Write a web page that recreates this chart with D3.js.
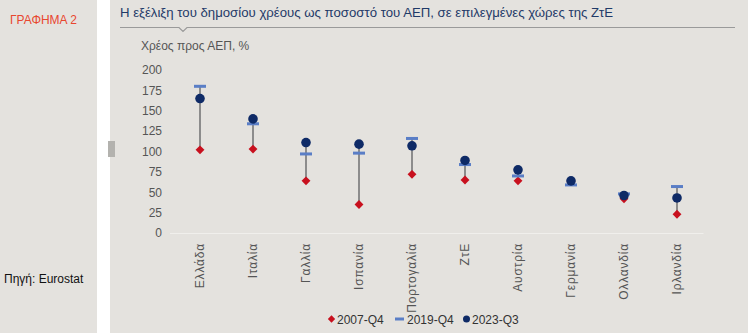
<!DOCTYPE html>
<html>
<head>
<meta charset="utf-8">
<script src="https://cdn.jsdelivr.net/npm/d3@7"></script>
<style>
  html, body { margin: 0; padding: 0; background: #ffffff; }
  svg { display: block; }
  text { font-family: "Liberation Sans", Arial, sans-serif; }
</style>
</head>
<body>
<svg id="chart" width="748" height="336"></svg>
<script>
// Public debt as % of GDP, selected euro-area countries
const countries = ["Ελλάδα", "Ιταλία", "Γαλλία", "Ισπανία", "Πορτογαλία", "ΖτΕ", "Αυστρία", "Γερμανία", "Ολλανδία", "Ιρλανδία"];
const debt2007Q4 = [102, 103, 64, 35, 72, 65, 64, 63.5, 42, 23];
const debt2019Q4 = [180, 134, 97, 98, 116, 84, 70, 59, 48, 57];
const debt2023Q3 = [165, 140, 111, 109, 107, 89, 77.5, 64, 46, 43];
const yTicks = [0, 25, 50, 75, 100, 125, 150, 175, 200];
const seriesNames = ["2007-Q4", "2019-Q4", "2023-Q3"];

const W = 748, H = 336;
const svg = d3.select("#chart");

// Panels
svg.append("rect").attr("x", 0).attr("y", 0).attr("width", 97).attr("height", 333).attr("fill", "#e4e2de");
svg.append("rect").attr("x", 110).attr("y", 0).attr("width", W - 110).attr("height", 333).attr("fill", "#e4e2de");
svg.append("rect").attr("x", 108).attr("y", 141).attr("width", 7).attr("height", 16).attr("fill", "#b3b2ae");

// Side labels
svg.append("text").attr("x", 10).attr("y", 24).attr("fill", "#e8472f").attr("font-size", 12).text("ΓΡΑΦΗΜΑ 2");
svg.append("text").attr("x", 4).attr("y", 283).attr("fill", "#111").attr("font-size", 12).text("Πηγή:  Eurostat");

// Title with rule and notch
svg.append("text").attr("x", 120).attr("y", 17).attr("fill", "#1f3a68").attr("font-size", 13.2)
  .text("Η εξέλιξη του δημοσίου χρέους ως ποσοστό του ΑΕΠ, σε επιλεγμένες χώρες της ΖτΕ");
svg.append("path").attr("d", "M120,27.5H179L183,31.5L187,27.5H735")
  .attr("fill", "none").attr("stroke", "#9a9a9a").attr("stroke-width", 1.2);

svg.append("text").attr("x", 141).attr("y", 50).attr("fill", "#555").attr("font-size", 12).text("Χρέος προς ΑΕΠ, %");

// Scales
const x = d3.scaleBand().domain(countries).range([173.5, 703.5]);
const y = d3.scaleLinear().domain([0, 200]).range([233, 70]);

// Y axis labels
const yAxis = svg.append("g").attr("transform", "translate(166,0)")
  .call(d3.axisLeft(y).tickValues(yTicks).tickSize(0).tickPadding(4));
yAxis.select(".domain").remove();
yAxis.selectAll("text").attr("fill", "#555").attr("font-size", 12)
  .attr("font-family", "'Liberation Sans', Arial, sans-serif");

// Baseline
svg.append("line").attr("x1", 170).attr("x2", 703.5).attr("y1", y(0) + 0.5).attr("y2", y(0) + 0.5)
  .attr("stroke", "#f0efec").attr("stroke-width", 1);

// Category labels (rotated)
const xAxis = svg.append("g").attr("transform", `translate(0,${y(0) + 6})`)
  .call(d3.axisBottom(x).tickSize(0).tickPadding(0));
xAxis.select(".domain").remove();
xAxis.selectAll("text")
  .attr("transform", "rotate(-90)")
  .attr("text-anchor", "end")
  .attr("dy", "0.35em")
  .attr("x", -4)
  .attr("y", 0)
  .attr("fill", "#555").attr("font-size", 12)
  .attr("letter-spacing", "0.8px")
  .attr("font-family", "'Liberation Sans', Arial, sans-serif");

// Data rows
const rows = countries.map((c, i) => ({ c, a: debt2007Q4[i], b: debt2019Q4[i], d: debt2023Q3[i] }));
const cx = d => x(d.c) + x.bandwidth() / 2;

const g = svg.append("g");
// Range connectors
g.selectAll("line.range").data(rows).join("line")
  .attr("x1", cx).attr("x2", cx)
  .attr("y1", d => y(Math.max(d.a, d.b, d.d)))
  .attr("y2", d => y(Math.min(d.a, d.b, d.d)))
  .attr("stroke", "#8c8c8c").attr("stroke-width", 2);

const diamond = d3.symbol().type(d3.symbolDiamond2).size(50);
const diamondColor = "#c8101e", dashColor = "#5a7ec6", dotColor = "#0e2a66";

// 2007-Q4 diamonds
g.selectAll("path.s07").data(rows).join("path")
  .attr("transform", d => `translate(${cx(d)},${y(d.a)})`)
  .attr("d", diamond).attr("fill", diamondColor);
// 2019-Q4 dashes
g.selectAll("rect.s19").data(rows).join("rect")
  .attr("x", d => cx(d) - 6).attr("y", d => y(d.b) - 1.5)
  .attr("width", 12).attr("height", 3).attr("fill", dashColor);
// 2023-Q3 dots
g.selectAll("circle.s23").data(rows).join("circle")
  .attr("cx", cx).attr("cy", d => y(d.d)).attr("r", 4.8).attr("fill", dotColor);

// Legend
const lg = svg.append("g").attr("transform", "translate(0,319)");
lg.append("path").attr("transform", "translate(331.5,0)").attr("d", d3.symbol().type(d3.symbolDiamond2).size(34)).attr("fill", diamondColor);
lg.append("text").attr("x", 337).attr("y", 4.5).attr("fill", "#333").attr("font-size", 12).text(seriesNames[0]);
lg.append("rect").attr("x", 395).attr("y", -1.5).attr("width", 9).attr("height", 3).attr("fill", dashColor);
lg.append("text").attr("x", 407).attr("y", 4.5).attr("fill", "#333").attr("font-size", 12).text(seriesNames[1]);
lg.append("circle").attr("cx", 466.5).attr("cy", 0).attr("r", 3.5).attr("fill", dotColor);
lg.append("text").attr("x", 472).attr("y", 4.5).attr("fill", "#333").attr("font-size", 12).text(seriesNames[2]);
</script>
</body>
</html>
